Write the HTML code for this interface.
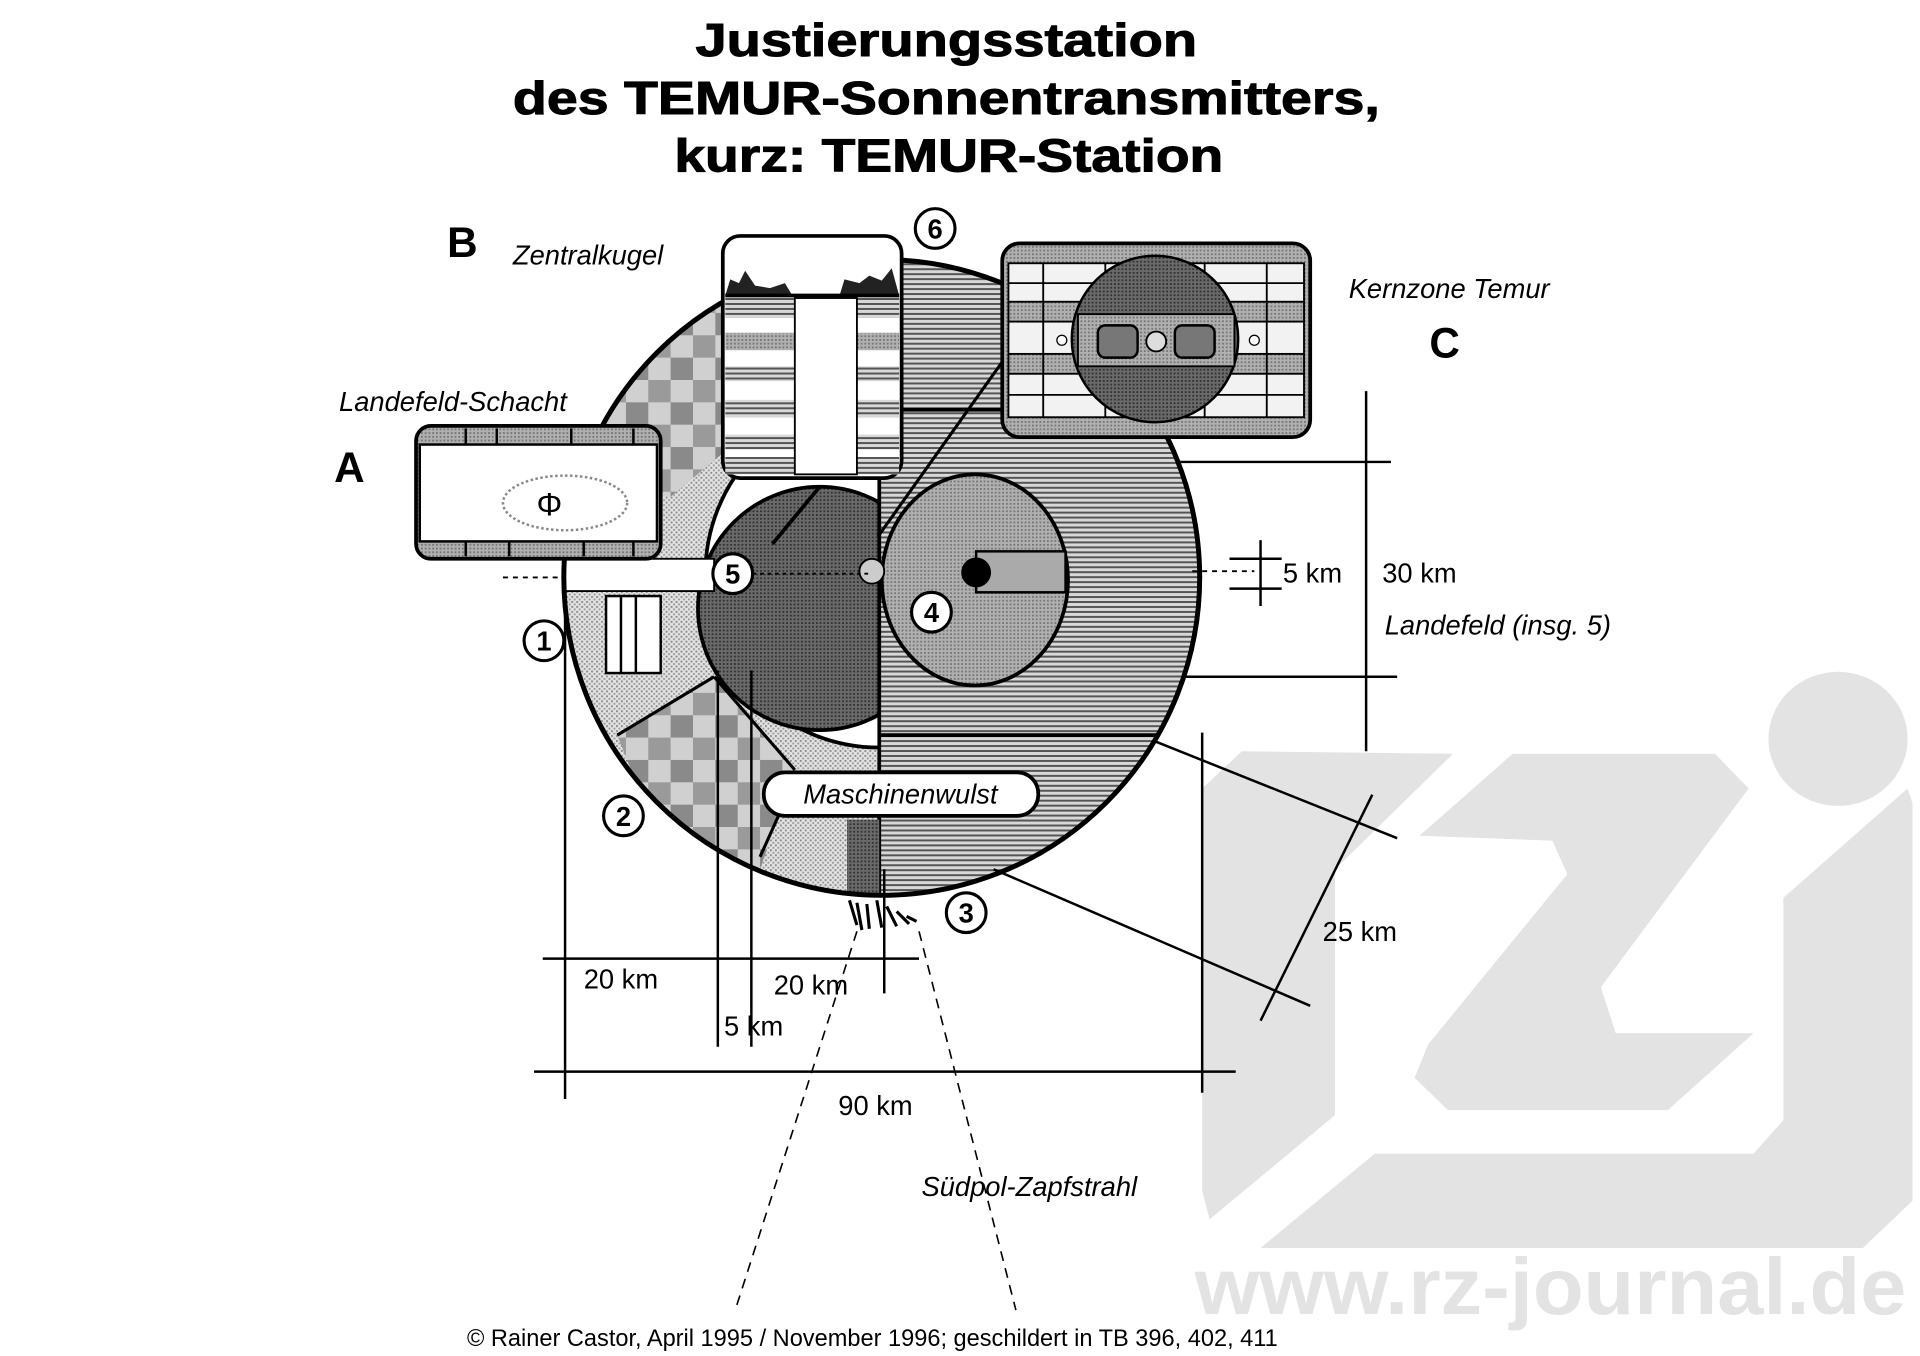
<!DOCTYPE html>
<html><head><meta charset="utf-8"><style>html,body{margin:0;padding:0;background:#fff}svg{display:block}</style></head>
<body>
<svg width="1920" height="1356" viewBox="0 0 1546 1092" preserveAspectRatio="none" xmlns="http://www.w3.org/2000/svg" font-family="Liberation Sans, Arial, sans-serif">
<defs>
<pattern id="hh" width="4" height="4" patternUnits="userSpaceOnUse"><rect width="4" height="4" fill="#d8d8d8"/><rect width="4" height="1.6" fill="#555"/></pattern>
<pattern id="dots" width="4" height="4" patternUnits="userSpaceOnUse"><rect width="4" height="4" fill="#e2e2e2"/><rect width="1.5" height="1.5" fill="#888"/><rect x="2" y="2" width="1.5" height="1.5" fill="#999"/></pattern>
<pattern id="chk" width="36" height="36" patternUnits="userSpaceOnUse"><rect width="36" height="36" fill="#d0d0d0"/><rect width="18" height="18" fill="#8a8a8a"/><rect x="18" y="18" width="18" height="18" fill="#9a9a9a"/></pattern>
<pattern id="dk" width="3" height="3" patternUnits="userSpaceOnUse"><rect width="3" height="3" fill="#6a6a6a"/><rect width="1.5" height="1.5" fill="#333"/></pattern>
<pattern id="md" width="3" height="3" patternUnits="userSpaceOnUse"><rect width="3" height="3" fill="#b0b0b0"/><rect width="1.5" height="1.5" fill="#777"/></pattern>
<clipPath id="cc"><circle cx="710" cy="465" r="256"/></clipPath>
<clipPath id="left"><rect x="0" y="0" width="708" height="1092"/></clipPath>
</defs>

<!-- watermark -->
<g fill="#e3e3e3">
<polygon points="968,635 1000,605 1170,607 1075,700 1075,898 974,982 968,959"/>
<polygon points="1143,673 1218,607 1381,607 1408,635 1289,795 1301,832 1412,832 1343,894 1166,894 1139,868 1150,841 1262,704 1250,677"/>
<polygon points="1015,1005 1107,929 1412,929 1436,902 1436,723 1536,635 1540,647 1540,967 1500,1005"/>
<ellipse cx="1480" cy="595" rx="56" ry="54"/>
<text x="962" y="1058" font-size="64" font-weight="bold" textLength="573" lengthAdjust="spacingAndGlyphs">www.rz-journal.de</text>
</g>

<!-- title -->
<g font-weight="bold" font-size="37" text-anchor="middle" fill="#000" stroke="#000" stroke-width="0.8">
<text x="762" y="45" textLength="404" lengthAdjust="spacingAndGlyphs">Justierungsstation</text>
<text x="762" y="92" textLength="698" lengthAdjust="spacingAndGlyphs">des TEMUR-Sonnentransmitters,</text>
<text x="764" y="138" textLength="442" lengthAdjust="spacingAndGlyphs">kurz: TEMUR-Station</text>
</g>

<!-- main circle -->
<g clip-path="url(#cc)">
<rect x="440" y="200" width="280" height="540" fill="url(#dots)"/>
<rect x="708" y="200" width="270" height="540" fill="url(#hh)"/>
<polygon points="480,345 540,260 582,240 582,365 540,400 532,400" fill="url(#chk)"/>
<polygon points="497,592 575,545 640,620 612,700 540,700" fill="url(#chk)"/>
<g clip-path="url(#left)">
<circle cx="708" cy="462" r="140" fill="#fff" stroke="#000" stroke-width="3"/>
<circle cx="660" cy="490" r="98" fill="url(#dk)" stroke="#000" stroke-width="3"/>
</g>
<line x1="708" y1="200" x2="708" y2="730" stroke="#000" stroke-width="3"/>
<line x1="708" y1="592" x2="970" y2="592" stroke="#000" stroke-width="3"/>
<line x1="726" y1="330" x2="808" y2="330" stroke="#000" stroke-width="3"/>
<line x1="497" y1="592" x2="575" y2="545" stroke="#000" stroke-width="2.5"/>
<line x1="575" y1="545" x2="640" y2="620" stroke="#000" stroke-width="2.5"/>
<line x1="612" y1="690" x2="630" y2="650" stroke="#000" stroke-width="2.5"/>
<rect x="682" y="660" width="26" height="70" fill="url(#dk)"/>
<rect x="455" y="450" width="120" height="26" fill="#fff" stroke="#000" stroke-width="1.5"/>
<rect x="488" y="480" width="44" height="62" fill="#fff" stroke="#000" stroke-width="2"/>
<line x1="500" y1="480" x2="500" y2="542" stroke="#000" stroke-width="2"/>
<line x1="512" y1="480" x2="512" y2="542" stroke="#000" stroke-width="2"/>
</g>
<circle cx="710" cy="465" r="256" fill="none" stroke="#000" stroke-width="4"/>
<line x1="808" y1="290" x2="707" y2="432" stroke="#000" stroke-width="2.5"/>
<line x1="622" y1="438" x2="660" y2="392" stroke="#000" stroke-width="3"/>

<!-- ellipse 4 -->
<ellipse cx="785" cy="467" rx="75" ry="85" fill="url(#md)" stroke="#000" stroke-width="3"/>
<rect x="786" y="444" width="72" height="33" fill="#aaa" stroke="#000" stroke-width="2"/>
<circle cx="786" cy="461" r="12" fill="#000"/>
<circle cx="702" cy="460" r="10" fill="#ccc" stroke="#000" stroke-width="1.5"/>
<line x1="600" y1="462" x2="700" y2="462" stroke="#000" stroke-width="1.5" stroke-dasharray="3,3"/>

<!-- top box -->
<rect x="582" y="190" width="144" height="195" rx="14" fill="#fff" stroke="#000" stroke-width="3"/>
<rect x="584" y="240" width="140" height="16" fill="url(#hh)"/>
<rect x="584" y="268" width="140" height="14" fill="url(#md)"/>
<rect x="584" y="295" width="140" height="12" fill="url(#hh)"/>
<rect x="584" y="322" width="140" height="14" fill="url(#hh)"/>
<rect x="584" y="350" width="140" height="12" fill="url(#hh)"/>
<rect x="584" y="368" width="140" height="14" fill="url(#hh)"/>
<path d="M584,238 L588,225 L595,228 L600,218 L608,230 L620,232 L632,228 L638,238 Z" fill="#222"/>
<path d="M676,238 L680,225 L692,228 L700,222 L710,226 L718,216 L724,238 Z" fill="#222"/>
<line x1="584" y1="238" x2="724" y2="238" stroke="#000" stroke-width="3"/>
<rect x="640" y="240" width="50" height="142" fill="#fff" stroke="#000" stroke-width="1.5"/>

<!-- right box C -->
<rect x="807" y="196" width="248" height="156" rx="14" fill="url(#md)" stroke="#000" stroke-width="3"/>
<g stroke="#000" stroke-width="1.5">
<rect x="812" y="212" width="238" height="124" fill="#f2f2f2"/>
<rect x="812" y="243" width="238" height="16" fill="url(#md)"/>
<rect x="812" y="285" width="238" height="16" fill="url(#md)"/>
<line x1="840" y1="212" x2="840" y2="336"/><line x1="890" y1="212" x2="890" y2="336"/><line x1="970" y1="212" x2="970" y2="336"/><line x1="1020" y1="212" x2="1020" y2="336"/>
<line x1="812" y1="228" x2="1050" y2="228"/><line x1="812" y1="318" x2="1050" y2="318"/>
</g>
<circle cx="930" cy="273" r="67" fill="url(#dk)" stroke="#000" stroke-width="2"/>
<rect x="868" y="253" width="126" height="42" fill="url(#md)" stroke="#000" stroke-width="1.5"/>
<rect x="884" y="262" width="32" height="26" rx="6" fill="#777" stroke="#000" stroke-width="2"/>
<rect x="946" y="262" width="32" height="26" rx="6" fill="#777" stroke="#000" stroke-width="2"/>
<circle cx="931" cy="275" r="8" fill="#ddd" stroke="#000" stroke-width="1.5"/>
<circle cx="855" cy="274" r="4" fill="#fff" stroke="#000"/>
<circle cx="1010" cy="274" r="4" fill="#fff" stroke="#000"/>

<!-- box A -->
<rect x="335" y="343" width="197" height="107" rx="12" fill="url(#md)" stroke="#000" stroke-width="3"/>
<rect x="338" y="358" width="191" height="78" fill="#fff" stroke="#000" stroke-width="2"/>
<g stroke="#000" stroke-width="2"><line x1="375" y1="345" x2="375" y2="358"/><line x1="400" y1="345" x2="400" y2="358"/><line x1="460" y1="345" x2="460" y2="358"/><line x1="510" y1="345" x2="510" y2="358"/>
<line x1="375" y1="436" x2="375" y2="448"/><line x1="410" y1="436" x2="410" y2="448"/><line x1="470" y1="436" x2="470" y2="448"/><line x1="510" y1="436" x2="510" y2="448"/></g>
<ellipse cx="455" cy="405" rx="50" ry="22" fill="none" stroke="#888" stroke-width="2" stroke-dasharray="2,2"/>
<text x="432" y="415" font-size="26">Φ</text>
<line x1="405" y1="465" x2="455" y2="465" stroke="#000" stroke-width="1.5" stroke-dasharray="4,4"/>

<!-- Maschinenwulst -->
<rect x="615" y="622" width="221" height="35" rx="17" fill="#fff" stroke="#000" stroke-width="3"/>
<text x="725" y="647" font-size="22" font-style="italic" text-anchor="middle">Maschinenwulst</text>

<!-- jet -->
<path d="M684,725 l6,20 M690,727 l4,22 M698,728 l2,20 M706,725 l4,22 M714,730 l8,16 M722,734 l10,10 M730,738 l8,4" stroke="#000" stroke-width="2.5" fill="none"/>

<!-- dimension lines -->
<g stroke="#000" stroke-width="2" fill="none">
<line x1="455" y1="480" x2="455" y2="885"/>
<line x1="578" y1="540" x2="578" y2="843"/>
<line x1="605" y1="540" x2="605" y2="843"/>
<line x1="712" y1="700" x2="712" y2="800"/>
<line x1="968" y1="590" x2="968" y2="880"/>
<line x1="437" y1="772" x2="740" y2="772"/>
<line x1="430" y1="863" x2="995" y2="863"/>
<line x1="950" y1="372" x2="1120" y2="372"/>
<line x1="955" y1="545" x2="1125" y2="545"/>
<line x1="1100" y1="315" x2="1100" y2="605"/>
<line x1="1015" y1="435" x2="1015" y2="488"/>
<line x1="990" y1="450" x2="1032" y2="450"/>
<line x1="990" y1="474" x2="1032" y2="474"/>
<line x1="930" y1="597" x2="1125" y2="675"/>
<line x1="800" y1="700" x2="1055" y2="810"/>
<line x1="1105" y1="640" x2="1015" y2="822"/>
<line x1="960" y1="460" x2="1010" y2="460" stroke-dasharray="4,4" stroke-width="1.5"/>
<line x1="690" y1="750" x2="592" y2="1055" stroke-dasharray="8,6" stroke-width="1.3"/>
<line x1="740" y1="750" x2="818" y2="1055" stroke-dasharray="8,6" stroke-width="1.3"/>
</g>

<!-- numbered circles -->
<g stroke="#000" stroke-width="2.5" fill="#fff">
<circle cx="753" cy="184" r="16"/><circle cx="438" cy="516" r="16"/><circle cx="502" cy="657" r="16"/>
<circle cx="778" cy="735" r="16"/><circle cx="590" cy="462" r="16"/><circle cx="750" cy="493" r="16"/>
</g>
<g font-size="22" font-weight="bold" text-anchor="middle">
<text x="753" y="192">6</text><text x="438" y="524">1</text><text x="502" y="665">2</text>
<text x="778" y="743">3</text><text x="590" y="470">5</text><text x="750" y="501">4</text>
</g>

<!-- labels -->
<g font-size="34" font-weight="bold"><text x="360" y="207">B</text><text x="269" y="388">A</text><text x="1151" y="288">C</text></g>
<g font-size="22" font-style="italic">
<text x="413" y="213">Zentralkugel</text>
<text x="273" y="331">Landefeld-Schacht</text>
<text x="1086" y="240">Kernzone Temur</text>
<text x="1115" y="511">Landefeld (insg. 5)</text>
<text x="742" y="963">Südpol-Zapfstrahl</text>
</g>
<g font-size="22">
<text x="1033" y="469">5 km</text><text x="1113" y="469">30 km</text>
<text x="1065" y="758">25 km</text>
<text x="470" y="796">20 km</text><text x="623" y="801">20 km</text>
<text x="583" y="834">5 km</text><text x="675" y="898">90 km</text>
</g>
<text x="376" y="1084" font-size="19">© Rainer Castor, April 1995 / November 1996; geschildert in TB 396, 402, 411</text>
</svg>
</body></html>
